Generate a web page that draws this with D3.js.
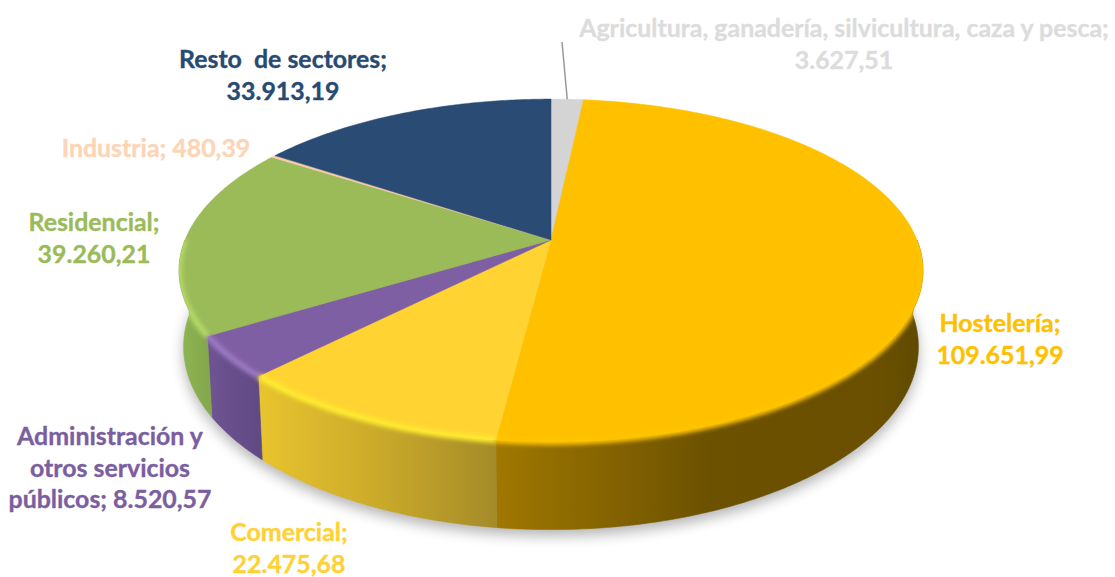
<!DOCTYPE html>
<html>
<head>
<meta charset="utf-8">
<script src="https://cdn.jsdelivr.net/npm/d3@7"></script>
<style>
  html, body { margin: 0; background: #fff; }
  svg { display: block; }
  text { font-family: Lato, "Open Sans", sans-serif; font-weight: 700; font-size: 24.9px; text-anchor: middle; stroke-width: 0.35px; }
</style>
</head>
<body>
<div id="pie"></div>
<script>
const categories = ['Agricultura, ganadería, silvicultura, caza y pesca', 'Hostelería', 'Comercial',
  'Administración y otros servicios públicos', 'Residencial', 'Industria', 'Resto  de sectores'];
const values = [3627.51, 109651.99, 22475.68, 8520.57, 39260.21, 480.39, 33913.19];

const topColors = ['#d4d4d4', '#ffc000', '#ffd432', '#7f5fa3', '#9bbb59', '#f8cbad', '#2a4b73'];
const textColors = ['#dcdcdc', '#ffc000', '#ffd135', '#7b5ea0', '#9bbb59', '#fbd5b5', '#264a72'];
const rimColors = ['#d4d4d4', '#ffc400', '#ffec30', '#9c7ac6', '#b4da68', '#f8cbad', '#2a4b73'];
// wall gradient stops, left to right
const wallColors = [['#999', '#999'], ['#a07800', '#6c5100', '#6a4f00', '#5f4a00'], ['#e8c42e', '#cbaa2a', '#a48b28'],
  ['#6f5493', '#604a84'], ['#8fb552', '#84a84c'], ['#b09080', '#b09080'], ['#1e3655', '#1e3655']];

// where the labels sit, and where each one wraps
const labelX = [844, 1000, 289, 110, 94, 156, 283];
const labelY = [37, 332, 541, 445, 231, 157, 68];
const wrapAfter = [['pesca;'], ['Hostelería;'], ['Comercial;'], ['y', 'servicios'], ['Residencial;'], [], ['sectores;']];
const lineHeight = 31.7;

const svgWidth = 1115, svgHeight = 577;
const svg = d3.select('#pie').append('svg').attr('width', svgWidth).attr('height', svgHeight);
const defs = svg.append('defs');

const blur = (id, dev) => defs.append('filter').attr('id', id)
  .attr('x', '-20%').attr('y', '-20%').attr('width', '140%').attr('height', '140%')
  .append('feGaussianBlur').attr('stdDeviation', dev);
blur('soft', 2.2);
blur('shadow', 7);

// Perspective of the disc: the centre of the pie is not the centre of the ellipse
const tilt = 0.178, depth = 0.455, shrink = 0.012;
const x = d3.scaleLinear().domain([-1, 1]).range([551 - 366, 551 + 366]);
const y = d3.scaleLinear().domain([-1, 1]).range([240 - 166, 240 + 166]);

const project = (a, h) => {
  const u = Math.sin(a), v = -Math.cos(a);
  const w = 1 - tilt * v + shrink * h;
  return [x(u / w), y((v + depth * h) / w)];
};
const line = d3.line();
const arcAngles = (a0, a1) => {
  const n = Math.max(2, Math.ceil((a1 - a0) / 0.01));
  return d3.range(n + 1).map(i => a0 + (a1 - a0) * i / n);
};
const rim = (a0, a1, h) => arcAngles(a0, a1).map(a => project(a, h));

const slices = d3.pie().sort(null).startAngle(0).endAngle(2 * Math.PI)(values);

// only the part of a slice on the viewer's side of the disc has a wall
const visible = d => [Math.max(d.startAngle, Math.PI / 2), Math.min(d.endAngle, 3 * Math.PI / 2)];
const wallPath = (a0, a1) => line(rim(a0, a1, 0).concat(rim(a0, a1, 1).reverse())) + 'Z';
const topPath = d => line([[x(0), y(0)]].concat(rim(d.startAngle, d.endAngle, 0))) + 'Z';

// drop shadow
svg.append('path')
  .attr('d', line(rim(0, 2 * Math.PI, 1)) + 'Z')
  .attr('transform', 'translate(0,6)')
  .attr('fill', '#000')
  .attr('opacity', 0.3)
  .attr('filter', 'url(#shadow)');

// walls
slices.forEach((d, i) => {
  const [a0, a1] = visible(d);
  if (a1 <= a0) return;
  const xs = rim(a0, a1, 0).map(p => p[0]);
  const stops = wallColors[i];
  const grad = defs.append('linearGradient').attr('id', 'wall' + i)
    .attr('gradientUnits', 'userSpaceOnUse')
    .attr('x1', d3.min(xs)).attr('x2', d3.max(xs)).attr('y1', 0).attr('y2', 0);
  // Hostelería runs dark from its left edge, the rest of its wall stays dark
  const at = i === 1 ? [0, 0.5, 0.9, 1] : stops.map((_, k) => k / (stops.length - 1));
  stops.forEach((c, k) => grad.append('stop').attr('offset', at[k]).attr('stop-color', c));
  svg.append('path')
    .attr('d', wallPath(a0, a1))
    .attr('fill', `url(#wall${i})`)
    .attr('stroke', `url(#wall${i})`)
    .attr('stroke-width', 0.6);
});

// top face
svg.append('g').selectAll('path')
  .data(slices)
  .join('path')
  .attr('d', topPath)
  .attr('fill', (d, i) => topColors[i])
  .attr('stroke', (d, i) => topColors[i])
  .attr('stroke-width', 0.5);

// soft bevel along the front of the rim
defs.append('clipPath').attr('id', 'disc')
  .selectAll('path')
  .data([line(rim(0, 2 * Math.PI, 0)) + 'Z', wallPath(Math.PI / 2, 3 * Math.PI / 2)])
  .join('path')
  .attr('d', d => d);

const rimLayer = svg.append('g').attr('clip-path', 'url(#disc)');
slices.forEach((d, i) => {
  const [a0, a1] = visible(d);
  if (a1 <= a0) return;
  rimLayer.append('path')
    .attr('d', line(rim(a0, a1, 0)))
    .attr('fill', 'none')
    .attr('stroke', rimColors[i])
    .attr('stroke-width', 6)
    .attr('filter', 'url(#soft)');
});

// leader for the small grey slice
const leaderEnd = project((slices[0].startAngle + slices[0].endAngle) / 2, 0);
svg.append('line')
  .attr('x1', 562).attr('y1', 42)
  .attr('x2', leaderEnd[0]).attr('y2', leaderEnd[1])
  .attr('stroke', '#999')
  .attr('stroke-width', 1.5);

// labels
const number = d3.formatLocale({ decimal: ',', thousands: '.', grouping: [3], currency: ['', ''] }).format(',.2f');

const labelLines = i => {
  let full = `${categories[i]}; ${number(values[i])}`;
  wrapAfter[i].forEach(w => { full = full.replace(w + ' ', w + '\n'); });
  return full.split('\n');
};

const labels = svg.append('g').selectAll('text')
  .data(categories)
  .join('text')
  .attr('fill', (d, i) => textColors[i])
  .attr('stroke', (d, i) => textColors[i])
  .style('white-space', 'pre');

labels.each(function(d, i) {
  d3.select(this).selectAll('tspan')
    .data(labelLines(i))
    .join('tspan')
    .attr('x', labelX[i])
    .attr('y', (t, k) => labelY[i] + k * lineHeight)
    .text(t => t);
});
</script>
</body>
</html>
